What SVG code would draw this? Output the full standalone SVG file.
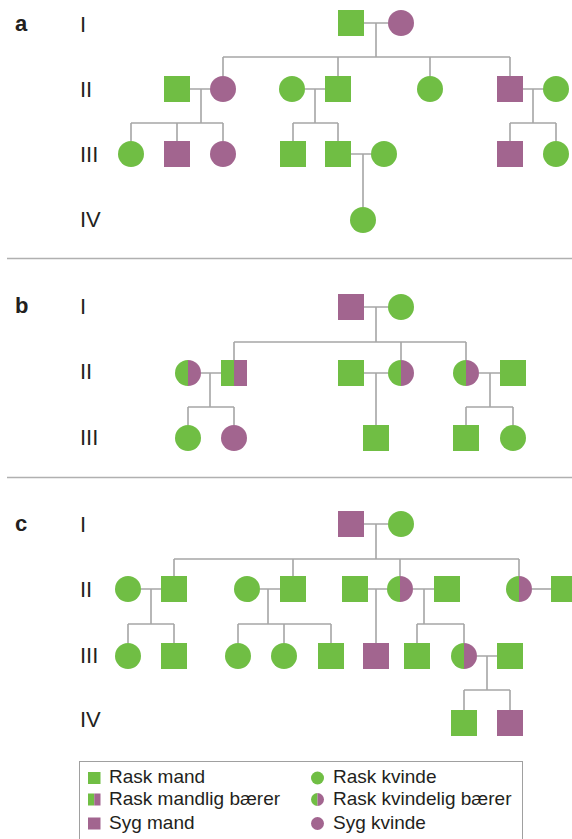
<svg xmlns="http://www.w3.org/2000/svg" xmlns:xlink="http://www.w3.org/1999/xlink" width="572" height="839" viewBox="0 0 572 839">
<style>
.g{fill:#70be44}
.m{fill:#a2658f}
.ln{fill:none;stroke:#a6a6a6;stroke-width:1.6}
.sep{fill:none;stroke:#b0b0b0;stroke-width:1.5}
.num{font-family:"Liberation Sans",Arial,sans-serif;font-size:22px;fill:#231f20}
.lab{font-family:"Liberation Sans",Arial,sans-serif;font-size:22px;font-weight:bold;fill:#231f20}
.leg{font-family:"Liberation Sans",Arial,sans-serif;font-size:19px;fill:#231f20}
</style>
<defs>
<rect id="sq" x="-13" y="-13" width="26" height="26"/>
<circle id="ci" r="13"/>
<g id="hc"><path class="g" d="M0,-13 A13,13 0 0 0 0,13 Z"/><path class="m" d="M0,-13 A13,13 0 0 1 0,13 Z"/></g>
<g id="hs"><rect class="g" x="-13" y="-13" width="13" height="26"/><rect class="m" x="0" y="-13" width="13" height="26"/></g>
</defs>
<rect width="572" height="839" fill="#fff"/>

<path class="sep" d="M7,258.5 H572 M7,477.5 H572"/>

<g id="labels">
<text class="lab" x="15" y="31">a</text>
<text class="num" x="80" y="32">I</text>
<text class="num" x="80" y="97">II</text>
<text class="num" x="80" y="162">III</text>
<text class="num" x="80" y="227">IV</text>
<text class="lab" x="15" y="313">b</text>
<text class="num" x="80" y="314">I</text>
<text class="num" x="80" y="379">II</text>
<text class="num" x="80" y="445">III</text>
<text class="lab" x="15" y="531">c</text>
<text class="num" x="80" y="532">I</text>
<text class="num" x="80" y="597">II</text>
<text class="num" x="80" y="663">III</text>
<text class="num" x="80" y="727">IV</text>
</g>

<g id="connectors">
<!-- panel a -->
<path class="ln" d="M364,23 H388 M376,23 V57 M223,57 H510 M223,57 V76 M338,57 V76 M430,57 V76 M510,57 V76"/>
<path class="ln" d="M190,89 H210 M201,89 V123 M131,123 H223 M131,123 V141 M177,123 V141 M223,123 V141"/>
<path class="ln" d="M305,89 H325 M315,89 V123 M293,123 H338 M293,123 V141 M338,123 V141"/>
<path class="ln" d="M351,154 H371 M363,154 V207"/>
<path class="ln" d="M523,89 H543 M533,89 V123 M510,123 H556 M510,123 V141 M556,123 V141"/>
<!-- panel b -->
<path class="ln" d="M364,307 H388 M376,307 V342 M234,342 H466 M234,342 V360 M401,342 V360 M466,342 V360"/>
<path class="ln" d="M201,373 H221 M210,373 V407 M188,407 H234 M188,407 V425 M234,407 V425"/>
<path class="ln" d="M364,373 H388 M376,373 V425"/>
<path class="ln" d="M479,373 H500 M490,373 V407 M466,407 H513 M466,407 V425 M513,407 V425"/>
<!-- panel c -->
<path class="ln" d="M364,524 H388 M376,524 V559 M174,559 H519 M174,559 V576 M293,559 V576 M400,559 V576 M519,559 V576"/>
<path class="ln" d="M141,589 H161 M151,589 V624 M128,624 H174 M128,624 V643 M174,624 V643"/>
<path class="ln" d="M260,589 H280 M268,589 V624 M238,624 H331 M238,624 V643 M284,624 V643 M331,624 V643"/>
<path class="ln" d="M368,589 H387 M376,589 V643"/>
<path class="ln" d="M413,589 H434 M424,589 V624 M417,624 H464 M417,624 V643 M464,624 V643"/>
<path class="ln" d="M532,589 H551"/>
<path class="ln" d="M477,656 H497 M487,656 V690 M464,690 H510 M464,690 V710 M510,690 V710"/>
</g>

<g id="panel-a">
<use id="a-I-1" xlink:href="#sq" class="g" x="351" y="23"/>
<use id="a-I-2" xlink:href="#ci" class="m" x="401" y="23"/>
<use id="a-II-1" xlink:href="#sq" class="g" x="177" y="89"/>
<use id="a-II-2" xlink:href="#ci" class="m" x="223" y="89"/>
<use id="a-II-3" xlink:href="#ci" class="g" x="292" y="89"/>
<use id="a-II-4" xlink:href="#sq" class="g" x="338" y="89"/>
<use id="a-II-5" xlink:href="#ci" class="g" x="430" y="89"/>
<use id="a-II-6" xlink:href="#sq" class="m" x="510" y="89"/>
<use id="a-II-7" xlink:href="#ci" class="g" x="556" y="89"/>
<use id="a-III-1" xlink:href="#ci" class="g" x="131" y="154"/>
<use id="a-III-2" xlink:href="#sq" class="m" x="177" y="154"/>
<use id="a-III-3" xlink:href="#ci" class="m" x="223" y="154"/>
<use id="a-III-4" xlink:href="#sq" class="g" x="293" y="154"/>
<use id="a-III-5" xlink:href="#sq" class="g" x="338" y="154"/>
<use id="a-III-6" xlink:href="#ci" class="g" x="384" y="154"/>
<use id="a-III-7" xlink:href="#sq" class="m" x="510" y="154"/>
<use id="a-III-8" xlink:href="#ci" class="g" x="556" y="154"/>
<use id="a-IV-1" xlink:href="#ci" class="g" x="363" y="220"/>
</g>

<g id="panel-b">
<use id="b-I-1" xlink:href="#sq" class="m" x="351" y="307"/>
<use id="b-I-2" xlink:href="#ci" class="g" x="401" y="307"/>
<use id="b-II-1" xlink:href="#hc" x="188" y="373"/>
<use id="b-II-2" xlink:href="#hs" x="234" y="373"/>
<use id="b-II-3" xlink:href="#sq" class="g" x="351" y="373"/>
<use id="b-II-4" xlink:href="#hc" x="401" y="373"/>
<use id="b-II-5" xlink:href="#hc" x="466" y="373"/>
<use id="b-II-6" xlink:href="#sq" class="g" x="513" y="373"/>
<use id="b-III-1" xlink:href="#ci" class="g" x="188" y="438"/>
<use id="b-III-2" xlink:href="#ci" class="m" x="234" y="438"/>
<use id="b-III-3" xlink:href="#sq" class="g" x="376" y="438"/>
<use id="b-III-4" xlink:href="#sq" class="g" x="466" y="438"/>
<use id="b-III-5" xlink:href="#ci" class="g" x="513" y="438"/>
</g>

<g id="panel-c">
<use id="c-I-1" xlink:href="#sq" class="m" x="351" y="524"/>
<use id="c-I-2" xlink:href="#ci" class="g" x="401" y="524"/>
<use id="c-II-1" xlink:href="#ci" class="g" x="128" y="589"/>
<use id="c-II-2" xlink:href="#sq" class="g" x="174" y="589"/>
<use id="c-II-3" xlink:href="#ci" class="g" x="247" y="589"/>
<use id="c-II-4" xlink:href="#sq" class="g" x="293" y="589"/>
<use id="c-II-5" xlink:href="#sq" class="g" x="355" y="589"/>
<use id="c-II-6" xlink:href="#hc" x="400" y="589"/>
<use id="c-II-7" xlink:href="#sq" class="g" x="447" y="589"/>
<use id="c-II-8" xlink:href="#hc" x="519" y="589"/>
<use id="c-II-9" xlink:href="#sq" class="g" x="564" y="589"/>
<use id="c-III-1" xlink:href="#ci" class="g" x="128" y="656"/>
<use id="c-III-2" xlink:href="#sq" class="g" x="174" y="656"/>
<use id="c-III-3" xlink:href="#ci" class="g" x="238" y="656"/>
<use id="c-III-4" xlink:href="#ci" class="g" x="284" y="656"/>
<use id="c-III-5" xlink:href="#sq" class="g" x="331" y="656"/>
<use id="c-III-6" xlink:href="#sq" class="m" x="376" y="656"/>
<use id="c-III-7" xlink:href="#sq" class="g" x="417" y="656"/>
<use id="c-III-8" xlink:href="#hc" x="464" y="656"/>
<use id="c-III-9" xlink:href="#sq" class="g" x="510" y="656"/>
<use id="c-IV-1" xlink:href="#sq" class="g" x="464" y="723"/>
<use id="c-IV-2" xlink:href="#sq" class="m" x="510" y="723"/>
</g>

<g id="legend">
<rect x="79.5" y="761.5" width="443" height="80" fill="none" stroke="#a0a0a0" stroke-width="1"/>
<rect class="g" x="88" y="772" width="12.5" height="12"/>
<text class="leg" x="109" y="783">Rask mand</text>
<rect class="g" x="88" y="793.5" width="6.25" height="12"/>
<rect class="m" x="94.25" y="793.5" width="6.25" height="12"/>
<text class="leg" x="109" y="804.5">Rask mandlig bærer</text>
<rect class="m" x="88" y="817.5" width="12.5" height="12"/>
<text class="leg" x="109" y="828.5">Syg mand</text>
<circle class="g" cx="317.5" cy="778" r="6.5"/>
<text class="leg" x="333" y="783">Rask kvinde</text>
<path class="g" d="M317.5,793 A6.5,6.5 0 0 0 317.5,806 Z"/>
<path class="m" d="M317.5,793 A6.5,6.5 0 0 1 317.5,806 Z"/>
<text class="leg" x="333" y="804.5">Rask kvindelig bærer</text>
<circle class="m" cx="317.5" cy="823.5" r="6.5"/>
<text class="leg" x="333" y="828.5">Syg kvinde</text>
</g>
</svg>
